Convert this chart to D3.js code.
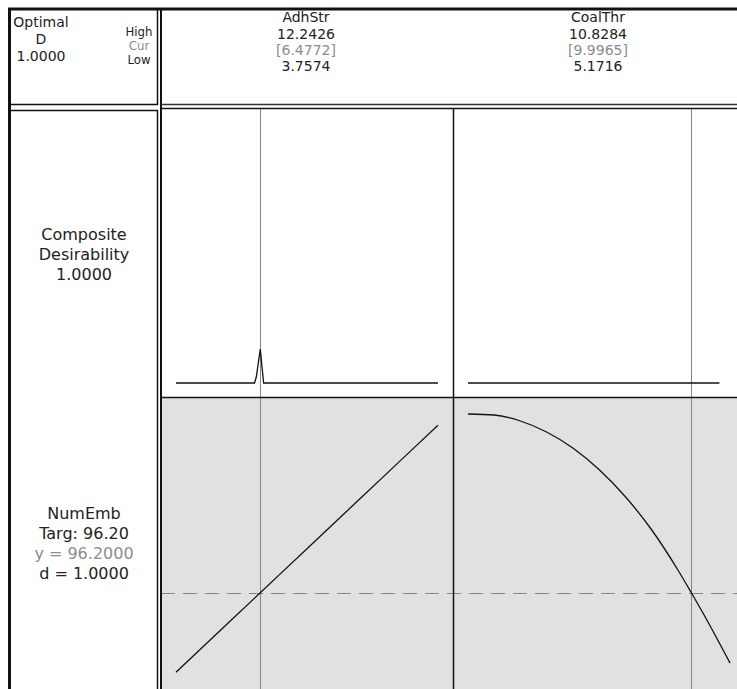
<!DOCTYPE html>
<html>
<head>
<meta charset="utf-8">
<script src="https://cdn.jsdelivr.net/npm/d3@7"></script>
<style>
  body { margin: 0; background: #fff; }
  svg { display: block; }
  text { font-family: "DejaVu Sans", sans-serif; font-size: 14px; fill: #222; }
  text.row { font-size: 16px; }
  text.small { font-family: "DejaVu Sans Condensed", "DejaVu Sans", sans-serif; font-size: 13px; }
</style>
</head>
<body>
<script>
// Factor settings shown in the header row
const factors = ["AdhStr", "CoalThr"];
const factorHigh = [12.2426, 10.8284];
const factorCur = [6.4772, 9.9965];
const factorLow = [3.7574, 5.1716];

// Response summary
const responseName = "NumEmb";
const responseTarget = 96.20;
const responseY = 96.2000;
const responseD = 1.0000;
const compositeD = 1.0000;

// NumEmb profile along AdhStr (CoalThr held at its current setting)
const adhStrGrid = [3.7574, 4.6059, 5.4544, 6.3030, 6.4772, 7.1515, 8.0000, 8.8485, 9.6971, 10.5456, 11.3941, 12.2426];
const numEmbAdhStr = [88.28, 90.75, 93.22, 95.69, 96.20, 98.16, 100.63, 103.10, 105.57, 108.04, 110.51, 112.98];

// NumEmb profile along CoalThr (AdhStr held at its current setting)
const coalThrGrid = [5.1716, 5.7373, 6.3030, 6.8686, 7.4343, 8.0000, 8.5657, 9.1314, 9.6970, 9.9965, 10.2627, 10.8284];
const numEmbCoalThr = [114.10, 114.00, 113.40, 112.30, 110.70, 108.55, 105.85, 102.55, 98.55, 96.20, 94.05, 89.20];

// Composite desirability profiles (sampled grid)
const desAdhStrGrid = [3.7574, 6.30, 6.358, 6.446, 6.488, 6.543, 6.596, 12.2426];
const desAdhStr = [0, 0, 0.023, 0.097, 0.131, 0.062, 0, 0];
const desCoalThrGrid = [5.1716, 7.0, 9.0, 10.6];
const desCoalThr = [0, 0, 0, 0];

const W = 737, H = 689;
const svg = d3.select("body").append("svg").attr("width", W).attr("height", H);

const gridLeft = 161, divX = 453, rowTop = 108, midY = 397, bottom = 690, rightEdge = 745;
const panelLefts = [gridLeft, divX];
const panelPad = 14, panelInner = 262;

const xScales = factors.map((f, i) =>
  d3.scaleLinear().domain([factorLow[i], factorHigh[i]])
    .range([panelLefts[i] + panelPad + 1, panelLefts[i] + panelPad + 1 + panelInner]));
const yResp = d3.scaleLinear().domain([86.8, 115.7]).range([687, 398]);
const yDes = d3.scaleLinear().domain([0, 1]).range([383, 124]);

// shaded response row
svg.append("rect").attr("x", gridLeft).attr("y", midY).attr("width", rightEdge - gridLeft)
  .attr("height", bottom - midY).attr("fill", "#e1e1e1");

// current-setting lines
factors.forEach((f, i) => {
  const x = Math.round(xScales[i](factorCur[i])) + 0.5;
  svg.append("line").attr("x1", x).attr("x2", x).attr("y1", rowTop).attr("y2", bottom)
    .attr("stroke", "#858585").attr("stroke-width", 1);
});

// target reference line
const ty = Math.round(yResp(responseTarget)) + 0.5;
svg.append("line").attr("x1", gridLeft).attr("x2", rightEdge).attr("y1", ty).attr("y2", ty)
  .attr("stroke", "#858585").attr("stroke-width", 1).attr("stroke-dasharray", "14,8");

// profile curves
const curve = (xs, ys, xScale, yScale, c) =>
  d3.line().curve(c || d3.curveLinear).x((d, k) => xScale(xs[k])).y(d => yScale(d))(ys);
const drawPath = d => svg.append("path").attr("d", d).attr("fill", "none")
  .attr("stroke", "#111").attr("stroke-width", 1.3);

drawPath(curve(adhStrGrid, numEmbAdhStr, xScales[0], yResp));
drawPath(curve(coalThrGrid, numEmbCoalThr, xScales[1], yResp, d3.curveMonotoneX));
drawPath(curve(desAdhStrGrid, desAdhStr, xScales[0], yDes));
drawPath(curve(desCoalThrGrid, desCoalThr, xScales[1], yDes));

// frame lines
const L = (x1, y1, x2, y2, w, c) => svg.append("line").attr("x1", x1).attr("y1", y1)
  .attr("x2", x2).attr("y2", y2).attr("stroke", c || "#111").attr("stroke-width", w || 1);

L(8, 9, W, 9, 3);                 // top edge
L(9.5, 8, 9.5, H, 3);             // left edge
L(157.5, 8, 157.5, 105, 1.5);     // header box right
L(8, 104.5, 158, 104.5, 1.5);     // header box bottom
L(157.5, 110, 157.5, H, 1.5);     // label box right
L(8, 110.5, 158, 110.5, 1.5);     // label box top
L(161, 8, 161, H, 2);             // grid left
L(161, 104.5, W, 104.5, 1.5, "#333"); // header bottom
L(161, rowTop + 0.5, W, rowTop + 0.5, 1.5);
L(divX + 0.5, rowTop, divX + 0.5, H, 1.5);
L(gridLeft, midY + 0.5, W, midY + 0.5, 1.5);

// text
const T = (x, y, s, color, cls) => svg.append("text").attr("x", x).attr("y", y)
  .attr("text-anchor", "middle").attr("class", cls || null)
  .style("fill", color || "#222").text(s);
const fmt4 = d3.format(".4f");
const grey = "#8c8c8c";

T(41, 27, "Optimal");
T(41, 44, "D");
T(41, 61, fmt4(compositeD));
T(139, 36, "High", null, "small");
T(139, 50, "Cur", grey, "small");
T(139, 64, "Low", null, "small");

const headerCenters = [306, 598];
factors.forEach((f, i) => {
  const cx = headerCenters[i];
  T(cx, 22, f);
  T(cx, 39, fmt4(factorHigh[i]));
  T(cx, 55, "[" + fmt4(factorCur[i]) + "]", grey);
  T(cx, 71, fmt4(factorLow[i]));
});

T(84, 240, "Composite", null, "row");
T(84, 260, "Desirability", null, "row");
T(84, 280, fmt4(compositeD), null, "row");

T(84, 519, responseName, null, "row");
T(84, 539, "Targ: " + d3.format(".2f")(responseTarget), null, "row");
T(84, 559, "y = " + fmt4(responseY), grey, "row");
T(84, 579, "d = " + fmt4(responseD), null, "row");
</script>
</body>
</html>
